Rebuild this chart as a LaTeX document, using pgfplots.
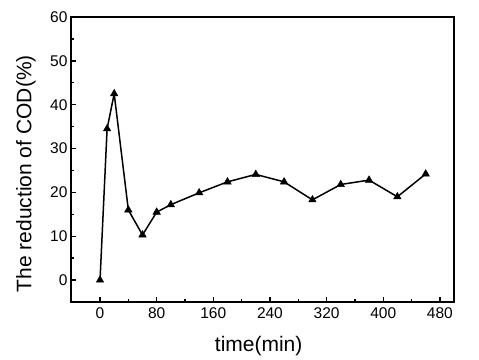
\documentclass[border=0pt]{standalone}
\usepackage{fontspec}
\setmainfont{Liberation Sans}
\usepackage{pgfplots}
\pgfplotsset{compat=1.18}
\begin{document}
\begin{tikzpicture}
\begin{axis}[
  scale only axis,
  width=383pt, height=285pt,
  xmin=-41, xmax=500, ymin=-5, ymax=60,
  xtick={0,80,...,480}, ytick={0,10,...,60},
  minor x tick num=1, minor y tick num=1,
  tick align=inside,
  xtick pos=bottom, ytick pos=left,
  major tick length=5pt, minor tick length=3pt,
  axis line style={line width=1.8pt},
  every tick/.style={line width=1.4pt, black},
  /pgf/number format/assume math mode=true,
  tick label style={font=\fontsize{15.5}{18}\selectfont},
  xticklabel style={yshift=-2pt},
  xlabel={time(min)},
  ylabel={The reduction of COD(\%)},
  label style={font=\fontsize{21}{25}\selectfont},
  xlabel style={at={(axis description cs:0.49,-0.154)}, anchor=center},
  ylabel style={at={(axis description cs:-0.1175,0.45)}, anchor=center},
]
\addplot[black, line width=1.5pt, mark=triangle*, mark size=4.3pt, mark options={solid, line width=0.5pt}] coordinates {
(0,0) (10,34.5) (20,42.5) (40,16.0) (60,10.3) (80,15.5) (100,17.2) (140,19.9) (180,22.4) (220,24.1) (260,22.4) (300,18.3) (340,21.8) (380,22.8) (420,19.0) (460,24.2)
};
\end{axis}
\path ([shift={(-71pt,-57pt)}]current axis.south west) rectangle ([shift={(25pt,17pt)}]current axis.north east);
\end{tikzpicture}
\end{document}
